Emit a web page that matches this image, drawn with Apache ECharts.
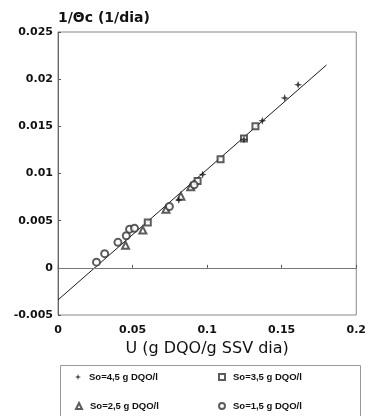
<!DOCTYPE html>
<html>
<head>
<meta charset="utf-8">
<script src="https://cdn.jsdelivr.net/npm/echarts@6/dist/echarts.min.js"></script>
<style>
  html, body { margin: 0; padding: 0; background: #fff; }
  #chart { width: 369px; height: 416px; }
</style>
</head>
<body>
<div id="chart"></div>
<script>
// Substrate utilisation rate U (g DQO/g SSV dia) vs 1/Θc (1/dia)
const xTicks = [0, 0.05, 0.1, 0.15, 0.2];
const yTicks = [-0.005, 0, 0.005, 0.01, 0.015, 0.02, 0.025];

// So = 4,5 g DQO/l
const s45U = [0.081, 0.097, 0.1247, 0.137, 0.152, 0.161];
const s45R = [0.0072, 0.0099, 0.0136, 0.0156, 0.0180, 0.0194];
// So = 3,5 g DQO/l
const s35U = [0.0602, 0.0936, 0.109, 0.1247, 0.1324];
const s35R = [0.0048, 0.0092, 0.0115, 0.0137, 0.0150];
// So = 2,5 g DQO/l
const s25U = [0.0453, 0.0569, 0.0724, 0.0824, 0.089];
const s25R = [0.0024, 0.0040, 0.0062, 0.0076, 0.0086];
// So = 1,5 g DQO/l
const s15U = [0.0258, 0.0313, 0.0402, 0.0458, 0.048, 0.0513, 0.0747, 0.0913];
const s15R = [0.0006, 0.0015, 0.0027, 0.0034, 0.0041, 0.0042, 0.0065, 0.0088];

// fitted straight line, end points
const fitU = [0, 0.18];
const fitR = [-0.0034, 0.0215];

const names = ["So=4,5 g DQO/l", "So=3,5 g DQO/l", "So=2,5 g DQO/l", "So=1,5 g DQO/l"];

const pairs = (xs, ys) => xs.map((x, i) => [x, ys[i]]);

const FONT = "DejaVu Sans";
const INK = "#111";
const starPath = "path://M0,-10 L2.5,-2.5 L10,0 L2.5,2.5 L0,10 L-2.5,2.5 L-10,0 L-2.5,-2.5 Z";

const chart = echarts.init(document.getElementById("chart"), null, { renderer: "canvas" });

const legendItem = (name, left, top) => ({
  data: [name],
  left: left,
  top: top,
  padding: 0,
  itemWidth: 6,
  itemHeight: 6,
  selectedMode: false,
  textStyle: {
    fontFamily: "Liberation Sans",
    fontSize: 9.5,
    fontWeight: "bold",
    color: INK,
    padding: [0, 0, 0, 3],
  },
});

const option = {
  animation: false,
  backgroundColor: "#fff",
  grid: {
    left: 58,
    right: 11,
    top: 32,
    bottom: 101,
    show: true,
    borderColor: "#888",
    borderWidth: 1,
  },
  xAxis: {
    type: "value",
    min: 0,
    max: 0.2,
    interval: 0.05,
    name: "U (g DQO/g SSV dia)",
    nameLocation: "middle",
    nameGap: 32,
    nameTextStyle: {
      fontFamily: FONT,
      fontSize: 16,
      color: INK,
      verticalAlign: "middle",
    },
    axisLine: { lineStyle: { color: "#666", width: 1 } },
    axisTick: { inside: true, length: 3, lineStyle: { color: "#555" } },
    splitLine: { show: false },
    axisLabel: {
      margin: 10,
      fontFamily: FONT,
      fontSize: 11,
      fontWeight: "bold",
      color: INK,
      formatter: (v) => String(xTicks.find((t) => Math.abs(t - v) < 1e-9) ?? v),
    },
  },
  yAxis: {
    type: "value",
    min: -0.005,
    max: 0.025,
    interval: 0.005,
    name: "1/Θc (1/dia)",
    nameLocation: "end",
    nameGap: 7,
    nameTextStyle: {
      fontFamily: FONT,
      fontSize: 14,
      fontWeight: "bold",
      color: INK,
      align: "left",
      verticalAlign: "bottom",
    },
    axisLine: { lineStyle: { color: "#666", width: 1 } },
    axisTick: { inside: true, length: 3, lineStyle: { color: "#555" } },
    splitLine: { show: false },
    axisLabel: {
      margin: 5,
      fontFamily: FONT,
      fontSize: 11,
      fontWeight: "bold",
      color: INK,
      formatter: (v) => String(yTicks.find((t) => Math.abs(t - v) < 1e-9) ?? v),
    },
  },
  legend: [
    legendItem(names[0], 75, 372),
    legendItem(names[1], 218, 372),
    legendItem(names[2], 75, 401),
    legendItem(names[3], 218, 401),
  ],
  graphic: [
    {
      type: "rect",
      left: 58,
      top: 363,
      shape: { width: 300, height: 60 },
      style: { fill: "none", stroke: "#999", lineWidth: 1 },
      silent: true,
    },
  ],
  series: [
    {
      name: "fit",
      type: "line",
      data: pairs(fitU, fitR),
      showSymbol: false,
      lineStyle: { color: "#1a1a1a", width: 1 },
      z: 1,
      markLine: {
        silent: true,
        symbol: "none",
        label: { show: false },
        lineStyle: { color: "#777", type: "solid", width: 1 },
        data: [{ yAxis: 0 }],
      },
    },
    {
      name: names[0],
      type: "scatter",
      data: pairs(s45U, s45R),
      symbol: starPath,
      symbolSize: 8,
      itemStyle: { color: "#111" },
      z: 3,
    },
    {
      name: names[1],
      type: "scatter",
      data: pairs(s35U, s35R),
      symbol: "emptyRect",
      symbolSize: 6,
      itemStyle: { color: "#333", borderWidth: 1 },
      z: 2,
    },
    {
      name: names[2],
      type: "scatter",
      data: pairs(s25U, s25R),
      symbol: "emptyTriangle",
      symbolSize: 7,
      itemStyle: { color: "#333", borderWidth: 1 },
      z: 2,
    },
    {
      name: names[3],
      type: "scatter",
      data: pairs(s15U, s15R),
      symbol: "emptyCircle",
      symbolSize: 7,
      itemStyle: { color: "#333", borderWidth: 1 },
      z: 2,
    },
  ],
};

chart.setOption(option);
</script>
</body>
</html>
